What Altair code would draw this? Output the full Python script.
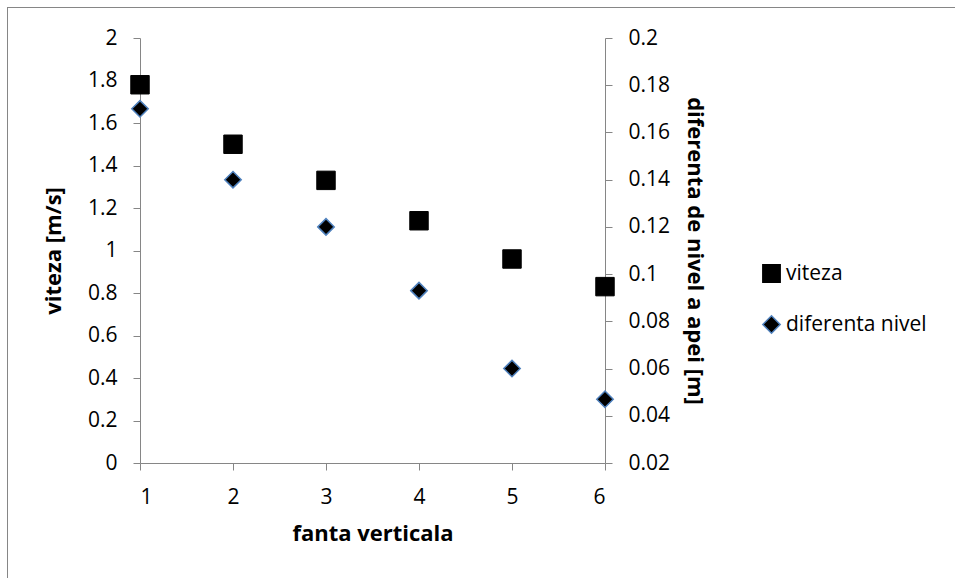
import altair as alt
import pandas as pd

# ---- data ----
fanta = [1, 2, 3, 4, 5, 6]
viteza = [1.78, 1.50, 1.33, 1.14, 0.96, 0.83]
diferenta = [0.170, 0.140, 0.120, 0.093, 0.060, 0.047]
series_names = ["viteza", "diferenta nivel"]
x_ticks = [1, 2, 3, 4, 5, 6]
left_ticks = [0, 0.2, 0.4, 0.6, 0.8, 1, 1.2, 1.4, 1.6, 1.8, 2]
right_ticks = [0.02, 0.04, 0.06, 0.08, 0.1, 0.12, 0.14, 0.16, 0.18, 0.2]

df_v = pd.DataFrame({"fanta": fanta, "val": viteza, "serie": series_names[0]})
df_d = pd.DataFrame({"fanta": fanta, "val": diferenta, "serie": series_names[1]})

FONT = "Open Sans"
GREY = "#868686"

shape_enc = alt.Shape(
    "serie:N",
    scale=alt.Scale(domain=series_names, range=["square", "diamond"]),
    legend=alt.Legend(
        title=None, orient="none", legendX=621, legendY=225,
        symbolSize=300, symbolStrokeWidth=1.5, labelFontSize=21,
        labelFont=FONT, labelColor="black", rowPadding=26,
        labelOffset=4, padding=0, symbolOpacity=1,
    ),
)
fill_enc = alt.Fill("serie:N", scale=alt.Scale(domain=series_names, range=["black", "black"]), legend=None)
stroke_enc = alt.Stroke("serie:N", scale=alt.Scale(domain=series_names, range=["black", "#4F81BD"]), legend=None)

axis_style = dict(grid=False, tickSize=7, labelPadding=16, format="~g",
                  domainColor=GREY, tickColor=GREY, labelFont=FONT, titleFont=FONT,
                  labelFontSize=21, titleFontSize=22, labelColor="black",
                  titleColor="black", titleFontWeight="bold")

x_enc = alt.X(
    "fanta:Q",
    scale=alt.Scale(domain=[1, 6], nice=False, zero=False),
    axis=alt.Axis(values=x_ticks, title="fanta verticala", titlePadding=16, **axis_style),
)

v_chart = alt.Chart(df_v).mark_point(size=340, strokeWidth=1, opacity=1).encode(
    x=x_enc,
    y=alt.Y("val:Q", scale=alt.Scale(domain=[0, 2], nice=False),
            axis=alt.Axis(values=left_ticks, title="viteza [m/s]", orient="left",
                          titlePadding=22, **axis_style)),
    shape=shape_enc, fill=fill_enc, stroke=stroke_enc,
)

d_chart = alt.Chart(df_d).mark_point(size=270, strokeWidth=1.5, opacity=1).encode(
    x=x_enc,
    y=alt.Y("val:Q", scale=alt.Scale(domain=[0.02, 0.2], nice=False, zero=False),
            axis=alt.Axis(values=right_ticks, title="diferenta de nivel a apei [m]", orient="right",
                          titlePadding=13, **axis_style)),
    shape=shape_enc, fill=fill_enc, stroke=stroke_enc,
)

# outer chart frame (left and top edges visible)
frame_left = alt.Chart(df_v).mark_rule(color=GREY, strokeWidth=1).encode(
    x=alt.value(-132.5), y=alt.value(-31), y2=alt.value(560))
frame_top = alt.Chart(df_v).mark_rule(color=GREY, strokeWidth=1).encode(
    x=alt.value(-133), x2=alt.value(900), y=alt.value(-30.5))

chart = alt.layer(frame_left, frame_top, v_chart, d_chart).resolve_scale(
    y="independent"
).properties(
    width=465, height=425,
    padding={"left": 140, "top": 38, "right": 350, "bottom": 115},
    autosize=alt.AutoSizeParams(type="none"),
    background="white",
).configure_view(stroke=None)

chart.save("out.html", embed_options={"renderer": "svg", "actions": False})
